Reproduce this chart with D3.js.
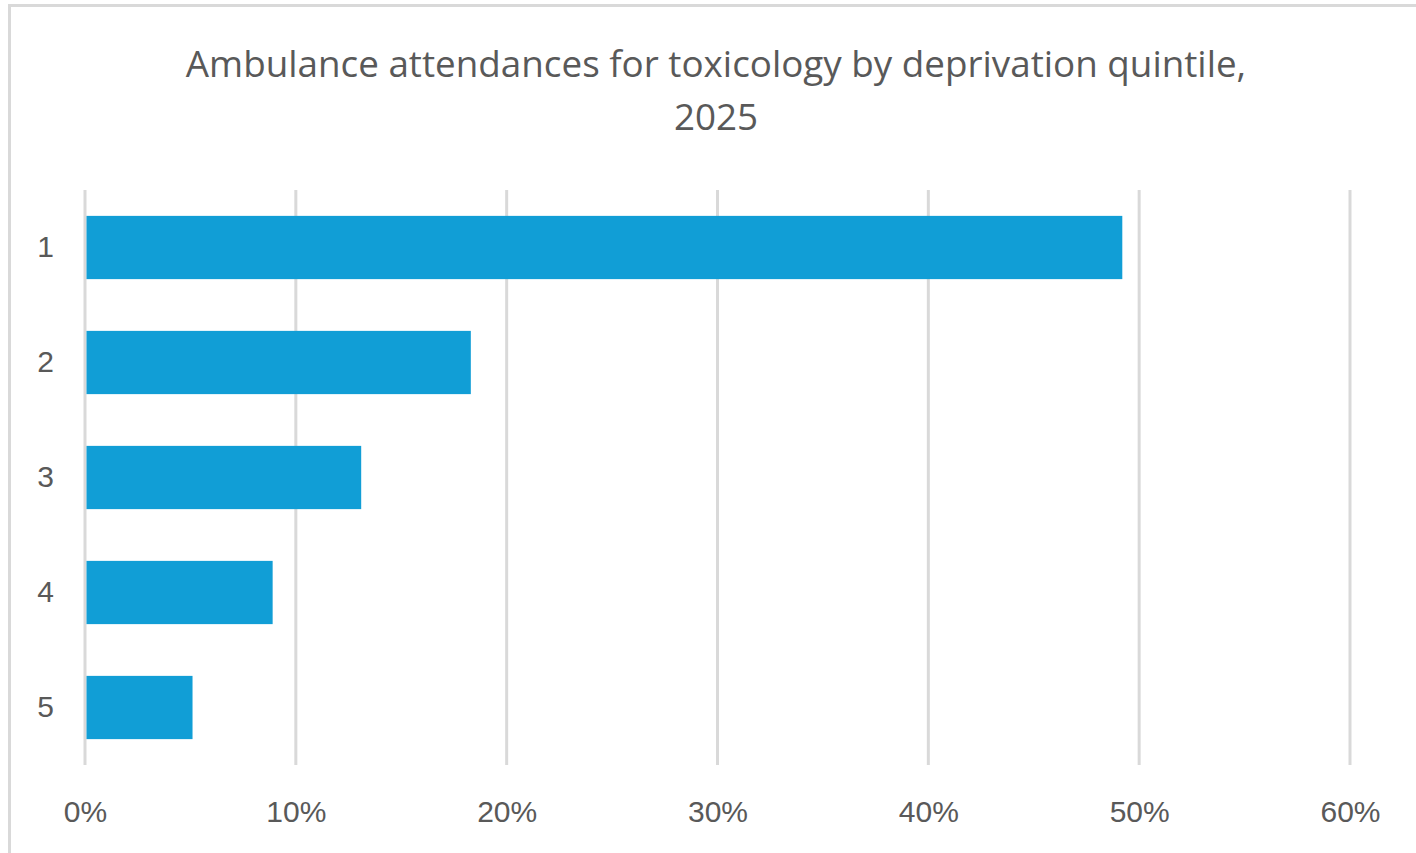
<!DOCTYPE html>
<html>
<head>
<meta charset="utf-8">
<script src="https://cdn.jsdelivr.net/npm/d3@7"></script>
<style>
  html, body { margin: 0; padding: 0; background: #fff; }
  svg { display: block; }
</style>
</head>
<body>
<svg id="chart" width="1416" height="853"></svg>
<script>
// Deprivation quintiles (1 = most deprived) and share of toxicology attendances
const quintiles = ["1", "2", "3", "4", "5"];
const shares = [0.492, 0.183, 0.131, 0.089, 0.051];
const xTicks = [0, 0.1, 0.2, 0.3, 0.4, 0.5, 0.6];
const titleLines = ["Ambulance attendances for toxicology by deprivation quintile,", "2025"];

const svg = d3.select("#chart");
const W = 1416, H = 853;

// chart frame
svg.append("rect")
  .attr("x", 9.5).attr("y", 5.5)
  .attr("width", W + 20).attr("height", H + 20)
  .attr("fill", "#fff")
  .attr("stroke", "#d9d9d9").attr("stroke-width", 3);

const plot = { left: 85, right: 1350, top: 190, bottom: 765 };

const x = d3.scaleLinear().domain([0, 0.6]).range([plot.left, plot.right]);
const y = d3.scaleBand().domain(quintiles).range([plot.top, plot.bottom]).paddingInner(0.45).paddingOuter(0.225);

// vertical gridlines
svg.append("g").selectAll("line").data(xTicks).join("line")
  .attr("x1", d => x(d)).attr("x2", d => x(d))
  .attr("y1", plot.top).attr("y2", plot.bottom)
  .attr("stroke", "#d9d9d9").attr("stroke-width", 3);

// bars
svg.append("g").selectAll("rect").data(quintiles).join("rect")
  .attr("x", x(0) + 1.5)
  .attr("y", d => y(d))
  .attr("width", (d, i) => x(shares[i]) - x(0) - 1.5)
  .attr("height", y.bandwidth())
  .attr("fill", "#119ed6");

// x axis labels
const xAxis = d3.axisBottom(x).tickValues(xTicks).tickFormat(d3.format(".0%")).tickSize(0).tickPadding(0);
const gx = svg.append("g").attr("transform", `translate(0, ${plot.bottom + 57})`).call(xAxis);
gx.select(".domain").remove();
gx.selectAll("text")
  .attr("dy", 0)
  .attr("font-family", "Liberation Sans, Arial, sans-serif")
  .attr("font-size", 30)
  .attr("fill", "#595959");

// y axis labels
const yAxis = d3.axisLeft(y).tickSize(0).tickPadding(0);
const gy = svg.append("g").attr("transform", `translate(54, 0)`).call(yAxis);
gy.select(".domain").remove();
gy.selectAll("text")
  .attr("dy", "0.33em")
  .attr("font-family", "Liberation Sans, Arial, sans-serif")
  .attr("font-size", 30)
  .attr("fill", "#595959");

// title
svg.append("g").selectAll("text").data(titleLines).join("text")
  .attr("x", 716)
  .attr("y", (d, i) => 77 + i * 53)
  .attr("text-anchor", "middle")
  .attr("font-family", "Open Sans, sans-serif")
  .attr("font-size", 36.8)
  .attr("fill", "#595959")
  .text(d => d);
</script>
</body>
</html>
